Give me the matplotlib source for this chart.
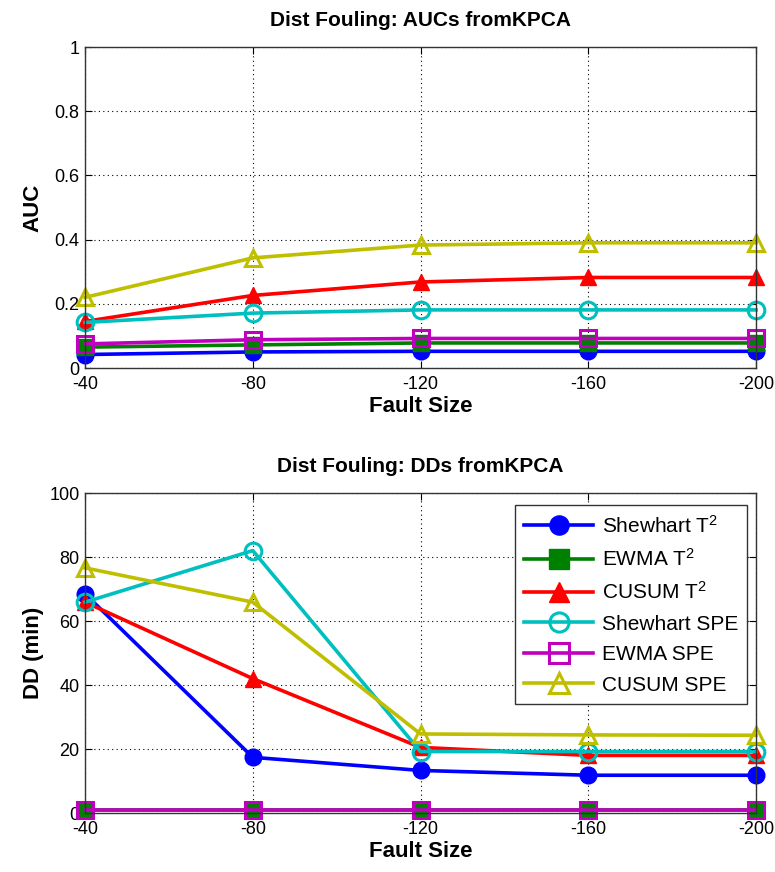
import matplotlib
matplotlib.use("Agg")
import matplotlib.pyplot as plt

plt.rcParams['font.family'] = ['Liberation Sans', 'DejaVu Sans']
plt.rcParams['mathtext.fontset'] = 'custom'
plt.rcParams['mathtext.rm'] = 'Liberation Sans'
plt.rcParams['mathtext.it'] = 'Liberation Sans:italic'
plt.rcParams['mathtext.bf'] = 'Liberation Sans:bold'

# Fault sizes (x categories)
fault_sizes = ['-40', '-80', '-120', '-160', '-200']

# Series names
series_names = ['Shewhart T$^2$', 'EWMA T$^2$', 'CUSUM T$^2$',
                'Shewhart SPE', 'EWMA SPE', 'CUSUM SPE']

# AUC values
auc_shewhart_t2 = [0.042, 0.050, 0.052, 0.052, 0.052]
auc_ewma_t2 = [0.065, 0.072, 0.078, 0.078, 0.078]
auc_cusum_t2 = [0.145, 0.226, 0.268, 0.282, 0.282]
auc_shewhart_spe = [0.142, 0.171, 0.181, 0.181, 0.181]
auc_ewma_spe = [0.075, 0.088, 0.092, 0.092, 0.092]
auc_cusum_spe = [0.220, 0.343, 0.383, 0.390, 0.390]

# Detection delay values (min)
dd_shewhart_t2 = [68.5, 17.4, 13.3, 11.8, 11.8]
dd_ewma_t2 = [0.8, 0.8, 0.8, 0.8, 0.8]
dd_cusum_t2 = [65.9, 42.0, 20.5, 18.0, 18.0]
dd_shewhart_spe = [65.9, 82.0, 19.2, 19.2, 19.2]
dd_ewma_spe = [0.8, 0.8, 0.8, 0.8, 0.8]
dd_cusum_spe = [76.6, 65.9, 24.7, 24.4, 24.3]

colors = [(0, 0, 1), (0, 0.5, 0), (1, 0, 0),
          (0, 0.75, 0.75), (0.75, 0, 0.75), (0.75, 0.75, 0)]
markers = ['o', 's', '^', 'o', 's', '^']
filled = [True, True, True, False, False, False]

fig = plt.figure(figsize=(7.75, 8.72), dpi=100)
ax1 = fig.add_axes([85/775, 1-368/872, 671/775, 321/872])
ax2 = fig.add_axes([85/775, 1-813/872, 671/775, 320/872])

x = list(range(len(fault_sizes)))


def draw(ax, data):
    for vals, name, c, m, f in zip(data, series_names, colors, markers, filled):
        ax.plot(x, vals, color=c, lw=2.6, marker=m, ms=12,
                markerfacecolor=c if f else 'none',
                markeredgecolor=c, markeredgewidth=2.2 if not f else 1.0,
                label=name, clip_on=False, zorder=3)
    ax.set_xlim(0, 4)
    ax.set_xticks(x)
    ax.set_xticklabels(fault_sizes)
    ax.grid(True, linestyle=(0, (1, 3)), color='black', lw=0.8)
    ax.tick_params(direction='in', top=True, right=True, labelsize=13,
                   length=5, width=0.8)
    ax.tick_params(axis='x', pad=6)
    ax.tick_params(axis='y', pad=4)
    for s in ax.spines.values():
        s.set_color('#333333')
        s.set_linewidth(1.0)
        s.set_zorder(4)
    ax.set_xlabel('Fault Size', fontsize=16, fontweight='bold', labelpad=2)


draw(ax1, [auc_shewhart_t2, auc_ewma_t2, auc_cusum_t2,
           auc_shewhart_spe, auc_ewma_spe, auc_cusum_spe])
ax1.set_ylim(0, 1)
ax1.set_yticks([0, 0.2, 0.4, 0.6, 0.8, 1])
ax1.set_yticklabels(['0', '0.2', '0.4', '0.6', '0.8', '1'])
ax1.set_ylabel('AUC', fontsize=16, fontweight='bold', labelpad=8)
ax1.set_title('Dist Fouling: AUCs fromKPCA', fontsize=15, fontweight='bold', pad=15)

draw(ax2, [dd_shewhart_t2, dd_ewma_t2, dd_cusum_t2,
           dd_shewhart_spe, dd_ewma_spe, dd_cusum_spe])
ax2.set_ylim(0, 100)
ax2.set_yticks([0, 20, 40, 60, 80, 100])
ax2.set_ylabel('DD (min)', fontsize=16, fontweight='bold', labelpad=4)
ax2.set_title('Dist Fouling: DDs fromKPCA', fontsize=15, fontweight='bold', pad=15)

leg = ax2.legend(loc='upper right', bbox_to_anchor=(0.987, 0.962), fontsize=15,
                 fancybox=False, framealpha=1, edgecolor='#333333',
                 handlelength=3.3, borderpad=0.45, labelspacing=0.55,
                 handletextpad=0.4, borderaxespad=0, markerscale=1.15)
leg.get_frame().set_linewidth(1.0)
leg.set_zorder(5)

fig.savefig('out.png', dpi=100)
